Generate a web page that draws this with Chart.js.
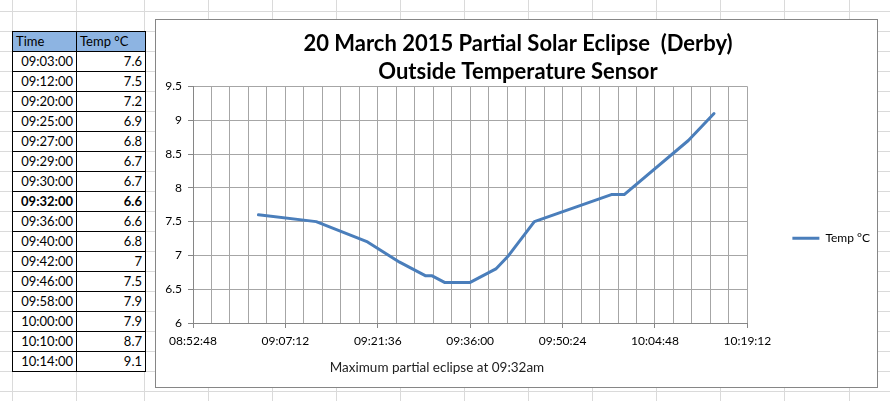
<!DOCTYPE html>
<html>
<head>
<meta charset="utf-8">
<title>20 March 2015 Partial Solar Eclipse (Derby)</title>
<script src="https://cdn.jsdelivr.net/npm/chart.js@4.4.1/dist/chart.umd.min.js"></script>
<style>
  html, body { margin: 0; padding: 0; background: #fff; }
  body { position: relative; width: 890px; height: 401px; overflow: hidden; font-family: Lato, "Open Sans", sans-serif; }
  .gl { position: absolute; background: #dadada; }
  #readings { position: absolute; left: 12px; top: 31px; border-collapse: collapse; table-layout: fixed; font-size: 13px; background: #fff; }
  #readings td { border: 1px solid #000; height: 19px; padding: 0 3px; line-height: 19px; text-align: right; white-space: nowrap; }
  #readings tr.head td { background: #8db4e2; text-align: left; }
  #readings tr.bold td { font-weight: bold; }
  #chartBox { position: absolute; left: 155px; top: 19px; width: 721px; height: 367px; border: 1px solid #868686; background: #fff; }
  #chartBox canvas { display: block; }
  #axisNote { position: absolute; left: 287px; top: 359px; width: 300px; text-align: center; font-size: 13.5px; line-height: 16px; color: #222; }
</style>
</head>
<body>
<div id="sheet"></div>
<table id="readings">
  <colgroup><col style="width:64px"><col style="width:69px"></colgroup>
  <tbody id="readingsBody"></tbody>
</table>
<div id="chartBox"><canvas id="eclipse_chart"></canvas></div>
<div id="axisNote"></div>

<script>
// readings from the sensor (time of day, outside temperature)
const readingTimes = ["09:03:00", "09:12:00", "09:20:00", "09:25:00", "09:27:00", "09:29:00", "09:30:00", "09:32:00",
                      "09:36:00", "09:40:00", "09:42:00", "09:46:00", "09:58:00", "10:00:00", "10:10:00", "10:14:00"];
const tempC = [7.6, 7.5, 7.2, 6.9, 6.8, 6.7, 6.7, 6.6, 6.6, 6.8, 7, 7.5, 7.9, 7.9, 8.7, 9.1];
const maxEclipseTime = "09:32:00";

const seriesName = "Temp °C";
const chartTitle = ["20 March 2015 Partial Solar Eclipse  (Derby)", "Outside Temperature Sensor"];
const axisNote = "Maximum partial eclipse at 09:32am";

// axis ticks as Excel shows them
const xTickLabels = ["08:52:48", "09:07:12", "09:21:36", "09:36:00", "09:50:24", "10:04:48", "10:19:12"];
const yTickValues = [6, 6.5, 7, 7.5, 8, 8.5, 9, 9.5];
const minorPerMajor = 5; // vertical gridlines between two labelled ticks

const lineColor = "#4a7ebb";
const gridColor = "#a6a6a6";
const axisColor = "#868686";

// "hh:mm:ss" -> seconds since midnight
function toSeconds(hms) {
    const p = hms.split(":").map(Number);
    return p[0] * 3600 + p[1] * 60 + p[2];
}

// spreadsheet gridlines behind everything
const sheet = document.getElementById("sheet");
const colEdges = [12, 76];
for (let x = 144.5; x < 890; x += 64.05) colEdges.push(Math.floor(x));
colEdges.forEach(x => {
    const d = document.createElement("div");
    d.className = "gl";
    d.style.cssText = `left:${x}px;top:0;width:1px;height:401px`;
    sheet.appendChild(d);
});
for (let y = 11; y < 401; y += 20) {
    const d = document.createElement("div");
    d.className = "gl";
    d.style.cssText = `left:0;top:${y}px;width:890px;height:1px`;
    sheet.appendChild(d);
}

// data table
const body = document.getElementById("readingsBody");
const head = document.createElement("tr");
head.className = "head";
head.innerHTML = `<td>Time</td><td>${seriesName}</td>`;
body.appendChild(head);
readingTimes.forEach((t, i) => {
    const tr = document.createElement("tr");
    if (t === maxEclipseTime) tr.className = "bold";
    tr.innerHTML = `<td>${t}</td><td>${tempC[i]}</td>`;
    body.appendChild(tr);
});

document.getElementById("axisNote").innerText = axisNote;

// chart
const canvas = document.getElementById("eclipse_chart");
canvas.width = 721;
canvas.height = 367;

Chart.defaults.font.family = "Lato";
Chart.defaults.color = "#000";

const xMin = toSeconds(xTickLabels[0]);
const xMax = toSeconds(xTickLabels[xTickLabels.length - 1]);
const majorStep = toSeconds(xTickLabels[1]) - xMin;
const tickFont = { size: 12 };

new Chart(canvas.getContext("2d"), {
    type: "line",
    data: {
        datasets: [{
            label: seriesName,
            data: readingTimes.map((t, i) => ({ x: toSeconds(t), y: tempC[i] })),
            borderColor: lineColor,
            backgroundColor: lineColor,
            borderWidth: 3,
            borderCapStyle: "round",
            borderJoinStyle: "round",
            pointRadius: 0,
            tension: 0
        }]
    },
    options: {
        responsive: false,
        animation: false,
        // legend box may overhang the canvas edge a little, nothing is drawn there
        layout: { padding: { left: 0, right: -3, top: 0, bottom: 0 } },
        plugins: {
            title: {
                display: true,
                text: chartTitle,
                color: "#000",
                font: { size: 22, weight: "bold", lineHeight: 1.26 },
                padding: { top: 10.5, bottom: 0.5 }
            },
            legend: {
                position: "right",
                // empty title only pushes the single entry down to where Excel has it
                title: { display: true, text: "", font: { size: 12 }, padding: { top: 55, bottom: 0 } },
                labels: {
                    usePointStyle: true,
                    pointStyle: "line",
                    pointStyleWidth: 27,
                    padding: 45,
                    color: "#000",
                    font: tickFont
                }
            },
            tooltip: { enabled: false }
        },
        scales: {
            x: {
                type: "linear",
                min: xMin,
                max: xMax,
                afterBuildTicks: scale => {
                    const ticks = [];
                    const n = (xTickLabels.length - 1) * minorPerMajor;
                    for (let i = 0; i <= n; i++) ticks.push({ value: xMin + i * majorStep / minorPerMajor });
                    scale.ticks = ticks;
                },
                afterFit: scale => { scale.height = 64; },
                grid: {
                    color: gridColor,
                    tickLength: 5,
                    tickColor: ctx => ctx.index % minorPerMajor === 0 ? axisColor : "transparent"
                },
                border: { color: axisColor },
                ticks: {
                    autoSkip: false,
                    maxRotation: 0,
                    padding: 6,
                    color: "#000",
                    font: tickFont,
                    callback: (v, i) => i % minorPerMajor === 0 ? xTickLabels[i / minorPerMajor] : ""
                }
            },
            y: {
                min: yTickValues[0],
                max: yTickValues[yTickValues.length - 1],
                afterFit: scale => { scale.width = 37; },
                ticks: {
                    stepSize: yTickValues[1] - yTickValues[0],
                    padding: 6,
                    color: "#000",
                    font: tickFont,
                    callback: v => String(v)
                },
                grid: { color: gridColor, tickLength: 5, tickColor: axisColor },
                border: { color: axisColor }
            }
        }
    }
});
</script>
</body>
</html>
